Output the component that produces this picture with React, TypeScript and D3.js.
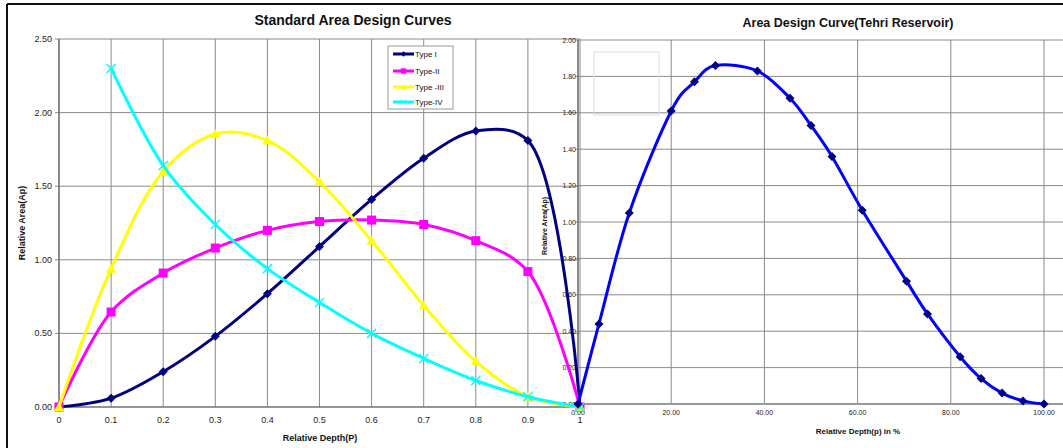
import React from "react";
import * as d3 from "d3";

const depthP = [0, 0.1, 0.2, 0.3, 0.4, 0.5, 0.6, 0.7, 0.8, 0.9, 1.0];
const typeI = [0, 0.06, 0.24, 0.48, 0.77, 1.09, 1.41, 1.69, 1.875, 1.81, 0];
const typeII = [0, 0.645, 0.91, 1.08, 1.2, 1.26, 1.27, 1.24, 1.13, 0.92, 0];
const typeIII = [0, 0.94, 1.6, 1.855, 1.81, 1.53, 1.13, 0.69, 0.31, 0.07, 0];
const depthIV = [0.1, 0.2, 0.3, 0.4, 0.5, 0.6, 0.7, 0.8, 0.9, 1.0];
const typeIV = [2.3, 1.64, 1.24, 0.94, 0.71, 0.5, 0.33, 0.18, 0.07, 0];

const tehriDepth = [0, 4.5, 11, 20, 25, 29.5, 38.5, 45.5, 50, 54.5, 61, 70.5, 75, 82, 86.5, 91, 95.5, 100];
const tehriArea = [0, 0.44, 1.05, 1.61, 1.77, 1.86, 1.83, 1.68, 1.53, 1.36, 1.065, 0.675, 0.495, 0.26, 0.14, 0.06, 0.017, 0];

const leftXTicks = [0, 0.1, 0.2, 0.3, 0.4, 0.5, 0.6, 0.7, 0.8, 0.9, 1];
const leftXLabels = ["0", "0.1", "0.2", "0.3", "0.4", "0.5", "0.6", "0.7", "0.8", "0.9", "1"];
const leftYTicks = [0, 0.5, 1.0, 1.5, 2.0, 2.5];
const rightXTicks = [0, 20, 40, 60, 80, 100];
const rightYTicks = [0, 0.2, 0.4, 0.6, 0.8, 1.0, 1.2, 1.4, 1.6, 1.8, 2.0];

const seriesNames = ["Type I", "Type-II", "Type -III", "Type-IV"];
const seriesColors = ["#000080", "#ff00ff", "#ffff00", "#00ffff"];

const FONT = "'Liberation Sans', Arial, sans-serif";

function Marker({ kind, x, y, color }: { kind: string; x: number; y: number; color: string }) {
  if (kind === "diamond") {
    const s = 4.5;
    return <path d={`M${x},${y - s}L${x + s},${y}L${x},${y + s}L${x - s},${y}Z`} fill={color} />;
  }
  if (kind === "square") {
    const s = 4.5;
    return <rect x={x - s} y={y - s} width={2 * s} height={2 * s} fill={color} />;
  }
  if (kind === "triangle") {
    const s = 5;
    return <path d={`M${x},${y - s}L${x + s},${y + s * 0.8}L${x - s},${y + s * 0.8}Z`} fill={color} />;
  }
  const s = 4.5;
  return (
    <path d={`M${x - s},${y - s}L${x + s},${y + s}M${x - s},${y + s}L${x + s},${y - s}`} stroke={color} strokeWidth={1.5} />
  );
}

export default function App() {
  const lx = d3.scaleLinear().domain([0, 1]).range([59, 580]);
  const ly = d3.scaleLinear().domain([0, 2.5]).range([407, 39]);
  const rx = d3.scaleLinear().domain([0, 100]).range([578, 1044]);
  const ry = d3.scaleLinear().domain([0, 2]).range([404, 40]);

  const leftLine = d3
    .line<[number, number]>()
    .x((d) => lx(d[0]))
    .y((d) => ly(d[1]))
    .curve(d3.curveCatmullRom.alpha(0.5));
  const rightLine = d3
    .line<[number, number]>()
    .x((d) => rx(d[0]))
    .y((d) => ry(d[1]))
    .curve(d3.curveCardinal.tension(0));

  const leftSeries = [
    { xs: depthP, ys: typeI, marker: "diamond" },
    { xs: depthP, ys: typeII, marker: "square" },
    { xs: depthP, ys: typeIII, marker: "triangle" },
    { xs: depthIV, ys: typeIV, marker: "cross" },
  ];

  const tehriPts: [number, number][] = tehriDepth.map((d, i) => [d, tehriArea[i]]);

  return (
    <svg
      width={1063}
      height={448}
      style={{ position: "absolute", left: 0, top: 0, background: "#fff" }}
      fontFamily={FONT}
    >
      <rect x={0} y={0} width={1063} height={448} fill="#fff" />
      {/* frame */}
      <line x1={7} y1={4} x2={1063} y2={4} stroke="#111" strokeWidth={2} />
      <line x1={7} y1={4} x2={7} y2={448} stroke="#111" strokeWidth={2} />

      {/* left grid */}
      {leftXTicks.map((t) => (
        <line key={"lgx" + t} x1={lx(t)} x2={lx(t)} y1={ly(2.5)} y2={ly(0)} stroke="#8a8a8a" strokeWidth={1} />
      ))}
      {leftYTicks.map((t) => (
        <line key={"lgy" + t} x1={lx(0) - 4} x2={lx(1)} y1={ly(t)} y2={ly(t)} stroke="#8a8a8a" strokeWidth={1} />
      ))}
      <line x1={lx(0)} x2={lx(0)} y1={ly(2.5)} y2={ly(0)} stroke="#666" strokeWidth={1.2} />
      <line x1={lx(0)} x2={lx(1)} y1={ly(0)} y2={ly(0)} stroke="#666" strokeWidth={1.2} />

      {/* right grid */}
      {rightXTicks.map((t) => (
        <line key={"rgx" + t} x1={rx(t)} x2={rx(t)} y1={ry(2)} y2={ry(0)} stroke="#8a8a8a" strokeWidth={1} />
      ))}
      {rightYTicks.map((t) => (
        <line key={"rgy" + t} x1={rx(0) - 3} x2={1063} y1={ry(t)} y2={ry(t)} stroke="#8a8a8a" strokeWidth={1} />
      ))}
      <line x1={rx(0)} x2={rx(0)} y1={ry(2)} y2={ry(0)} stroke="#777" strokeWidth={1.5} />
      <line x1={rx(0)} x2={1063} y1={ry(0)} y2={ry(0)} stroke="#999" strokeWidth={2} />
      <rect x={594} y={52} width={65} height={63} fill="none" stroke="#ddd" strokeWidth={1} />

      {/* left labels */}
      <text x={353} y={25} textAnchor="middle" fontSize={14} fontWeight="bold" fill="#111">
        Standard Area Design Curves
      </text>
      {leftYTicks.map((t) => (
        <text key={"lyl" + t} x={52} y={ly(t) + 3} textAnchor="end" fontSize={9} fill="#222">
          {t.toFixed(2)}
        </text>
      ))}
      {leftXTicks.map((t, i) => (
        <text key={"lxl" + t} x={lx(t)} y={423} textAnchor="middle" fontSize={9} fill="#222">
          {leftXLabels[i]}
        </text>
      ))}
      <text x={320} y={441} textAnchor="middle" fontSize={9} fontWeight="bold" fill="#111">
        Relative Depth(P)
      </text>
      <text
        transform={`translate(25,223) rotate(-90)`}
        textAnchor="middle"
        fontSize={9}
        fontWeight="bold"
        fill="#111"
      >
        Relative Area(Ap)
      </text>

      {/* right labels */}
      <text x={848} y={27} textAnchor="middle" fontSize={12.5} fontWeight="bold" fill="#111">
        Area Design Curve(Tehri Reservoir)
      </text>
      {rightYTicks.map((t) => (
        <text key={"ryl" + t} x={576} y={ry(t) + 2.5} textAnchor="end" fontSize={7} fill="#222">
          {t.toFixed(2)}
        </text>
      ))}
      {rightXTicks.map((t) => (
        <text key={"rxl" + t} x={rx(t)} y={415} textAnchor="middle" fontSize={7} fill="#222">
          {t.toFixed(2)}
        </text>
      ))}
      <text x={858} y={434} textAnchor="middle" fontSize={8} fontWeight="bold" fill="#111">
        Relative Depth(p) in %
      </text>
      <text
        transform={`translate(547,226) rotate(-90)`}
        textAnchor="middle"
        fontSize={7}
        fontWeight="bold"
        fill="#111"
      >
        Relative Area(Ap)
      </text>

      {/* left series */}
      {leftSeries.map((s, i) => {
        const pts: [number, number][] = s.xs.map((x, j) => [x, s.ys[j]]);
        return (
          <g key={"ls" + i}>
            <path d={leftLine(pts) || ""} fill="none" stroke={seriesColors[i]} strokeWidth={3} />
            {pts.map((p, j) => (
              <Marker key={j} kind={s.marker} x={lx(p[0])} y={ly(p[1])} color={seriesColors[i]} />
            ))}
          </g>
        );
      })}

      {/* right series */}
      <path d={rightLine(tehriPts) || ""} fill="none" stroke="#0000ff" strokeWidth={3} />
      {tehriPts.map((p, j) => (
        <Marker key={"tp" + j} kind="diamond" x={rx(p[0])} y={ry(p[1])} color="#000080" />
      ))}

      {/* legend */}
      <rect x={388} y={46} width={65} height={63} fill="#fff" stroke="#999" strokeWidth={1} />
      {seriesNames.map((n, i) => {
        const yy = [54, 71, 87, 102][i];
        const kinds = ["diamond", "square", "triangle", "cross"];
        return (
          <g key={"lg" + i}>
            <line x1={393} x2={414} y1={yy} y2={yy} stroke={seriesColors[i]} strokeWidth={3} />
            <g transform={`translate(403.5,${yy}) scale(0.6) translate(-403.5,${-yy})`}>
              <Marker kind={kinds[i]} x={403.5} y={yy} color={seriesColors[i]} />
            </g>
            <text x={415} y={yy + 3} fontSize={8} fill="#111">
              {n}
            </text>
          </g>
        );
      })}
    </svg>
  );
}
